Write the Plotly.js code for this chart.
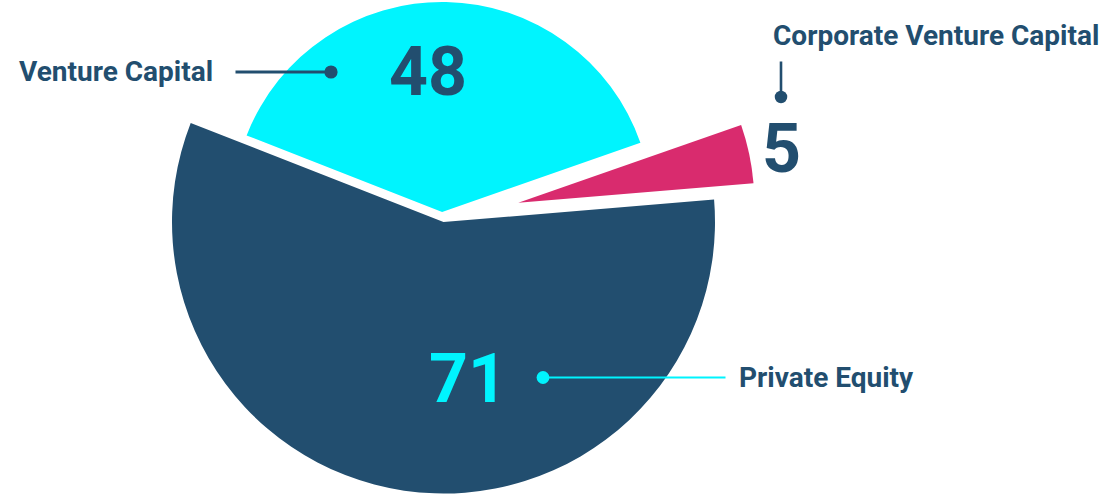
<!DOCTYPE html>
<html><head><meta charset="utf-8">
<script src="https://cdn.plot.ly/plotly-3.0.1.min.js"></script>
<style>
html,body{margin:0;padding:0;background:#fff;overflow:hidden;width:1105px;height:495px;}
#chart{position:absolute;left:0;top:-120px;width:1105px;height:700px;}
</style>
</head><body><div id="chart"></div>
<script>
// ---- data ----
const categories = ['Venture Capital', 'Corporate Venture Capital', 'Private Equity'];
const values = [48, 5, 71];

// ---- style ----
const sliceColors = ['#00f4fe', '#d92b6e', '#224e6f'];
const sliceRadius = [210, 236, 271.5];        // px, variable-radius pie
const slicePullPx = [7, 78, 0];               // px pulled out along bisector
const sliceCentre = [[442, 219], [442, 219], [443.5, 222]]; // page px
const dark = '#224e6f';
const cyan = '#00f4fe';

const W = 1105, H = 700, OFF = 120;   // plot is taller than the page and shifted up
const px = x => x / W;
const py = y => 1 - (y + OFF) / H;

const traces = [];
[2, 0, 1].forEach(i => {
  const r = sliceRadius[i];
  const half = r + slicePullPx[i];
  const [cx, cy] = sliceCentre[i];
  traces.push({
    type: 'pie',
    labels: categories,
    values: values,
    sort: false,
    direction: 'clockwise',
    rotation: -68.6,
    textinfo: 'none',
    hoverinfo: 'label+value',
    showlegend: false,
    pull: categories.map((c, j) => j === i ? slicePullPx[i] / r : 0),
    marker: {
      colors: categories.map((c, j) => j === i ? sliceColors[i] : 'rgba(0,0,0,0)'),
      line: {width: 0}
    },
    domain: {
      x: [px(cx - half), px(cx + half)],
      y: [py(cy + half), py(cy - half)]
    }
  });
});

const labelFont = {family: 'Roboto', size: 28, color: dark, weight: 700};
const numFont = c => ({family: 'Roboto', size: 68, color: c, weight: 700});

const annotations = [
  // category labels
  {text: categories[0], x: px(17), y: py(72), xanchor: 'left', yanchor: 'middle', font: labelFont},
  {text: categories[1], x: px(771), y: py(35), xanchor: 'left', yanchor: 'middle', font: labelFont},
  {text: categories[2], x: px(737), y: py(377), xanchor: 'left', yanchor: 'middle', font: labelFont},
  // values
  {text: String(values[0]), x: px(428), y: py(72), xanchor: 'center', yanchor: 'middle', font: numFont(dark)},
  {text: String(values[1]), x: px(781), y: py(149), xanchor: 'center', yanchor: 'middle', font: numFont(dark)},
  {text: String(values[2]), x: px(468), y: py(379), xanchor: 'center', yanchor: 'middle', font: numFont(cyan)},
  // leader lines with dots
  {text: '', x: px(331), y: py(72), showarrow: true, ax: -97, ay: 0, arrowhead: 6, arrowsize: 1.1, arrowwidth: 3, arrowcolor: dark},
  {text: '', x: px(781), y: py(97), showarrow: true, ax: 0, ay: -37, arrowhead: 6, arrowsize: 1.2, arrowwidth: 2.6, arrowcolor: dark},
  {text: '', x: px(543), y: py(377.5), showarrow: true, ax: 184, ay: 0, arrowhead: 6, arrowsize: 1.6, arrowwidth: 2, arrowcolor: cyan}
].map(a => Object.assign({xref: 'paper', yref: 'paper', showarrow: false}, a));

const layout = {
  width: W, height: H,
  margin: {l: 0, r: 0, t: 0, b: 0},
  paper_bgcolor: '#ffffff',
  plot_bgcolor: '#ffffff',
  showlegend: false,
  annotations: annotations
};

Plotly.newPlot('chart', traces, layout, {staticPlot: true, displayModeBar: false});
</script>
</body></html>
